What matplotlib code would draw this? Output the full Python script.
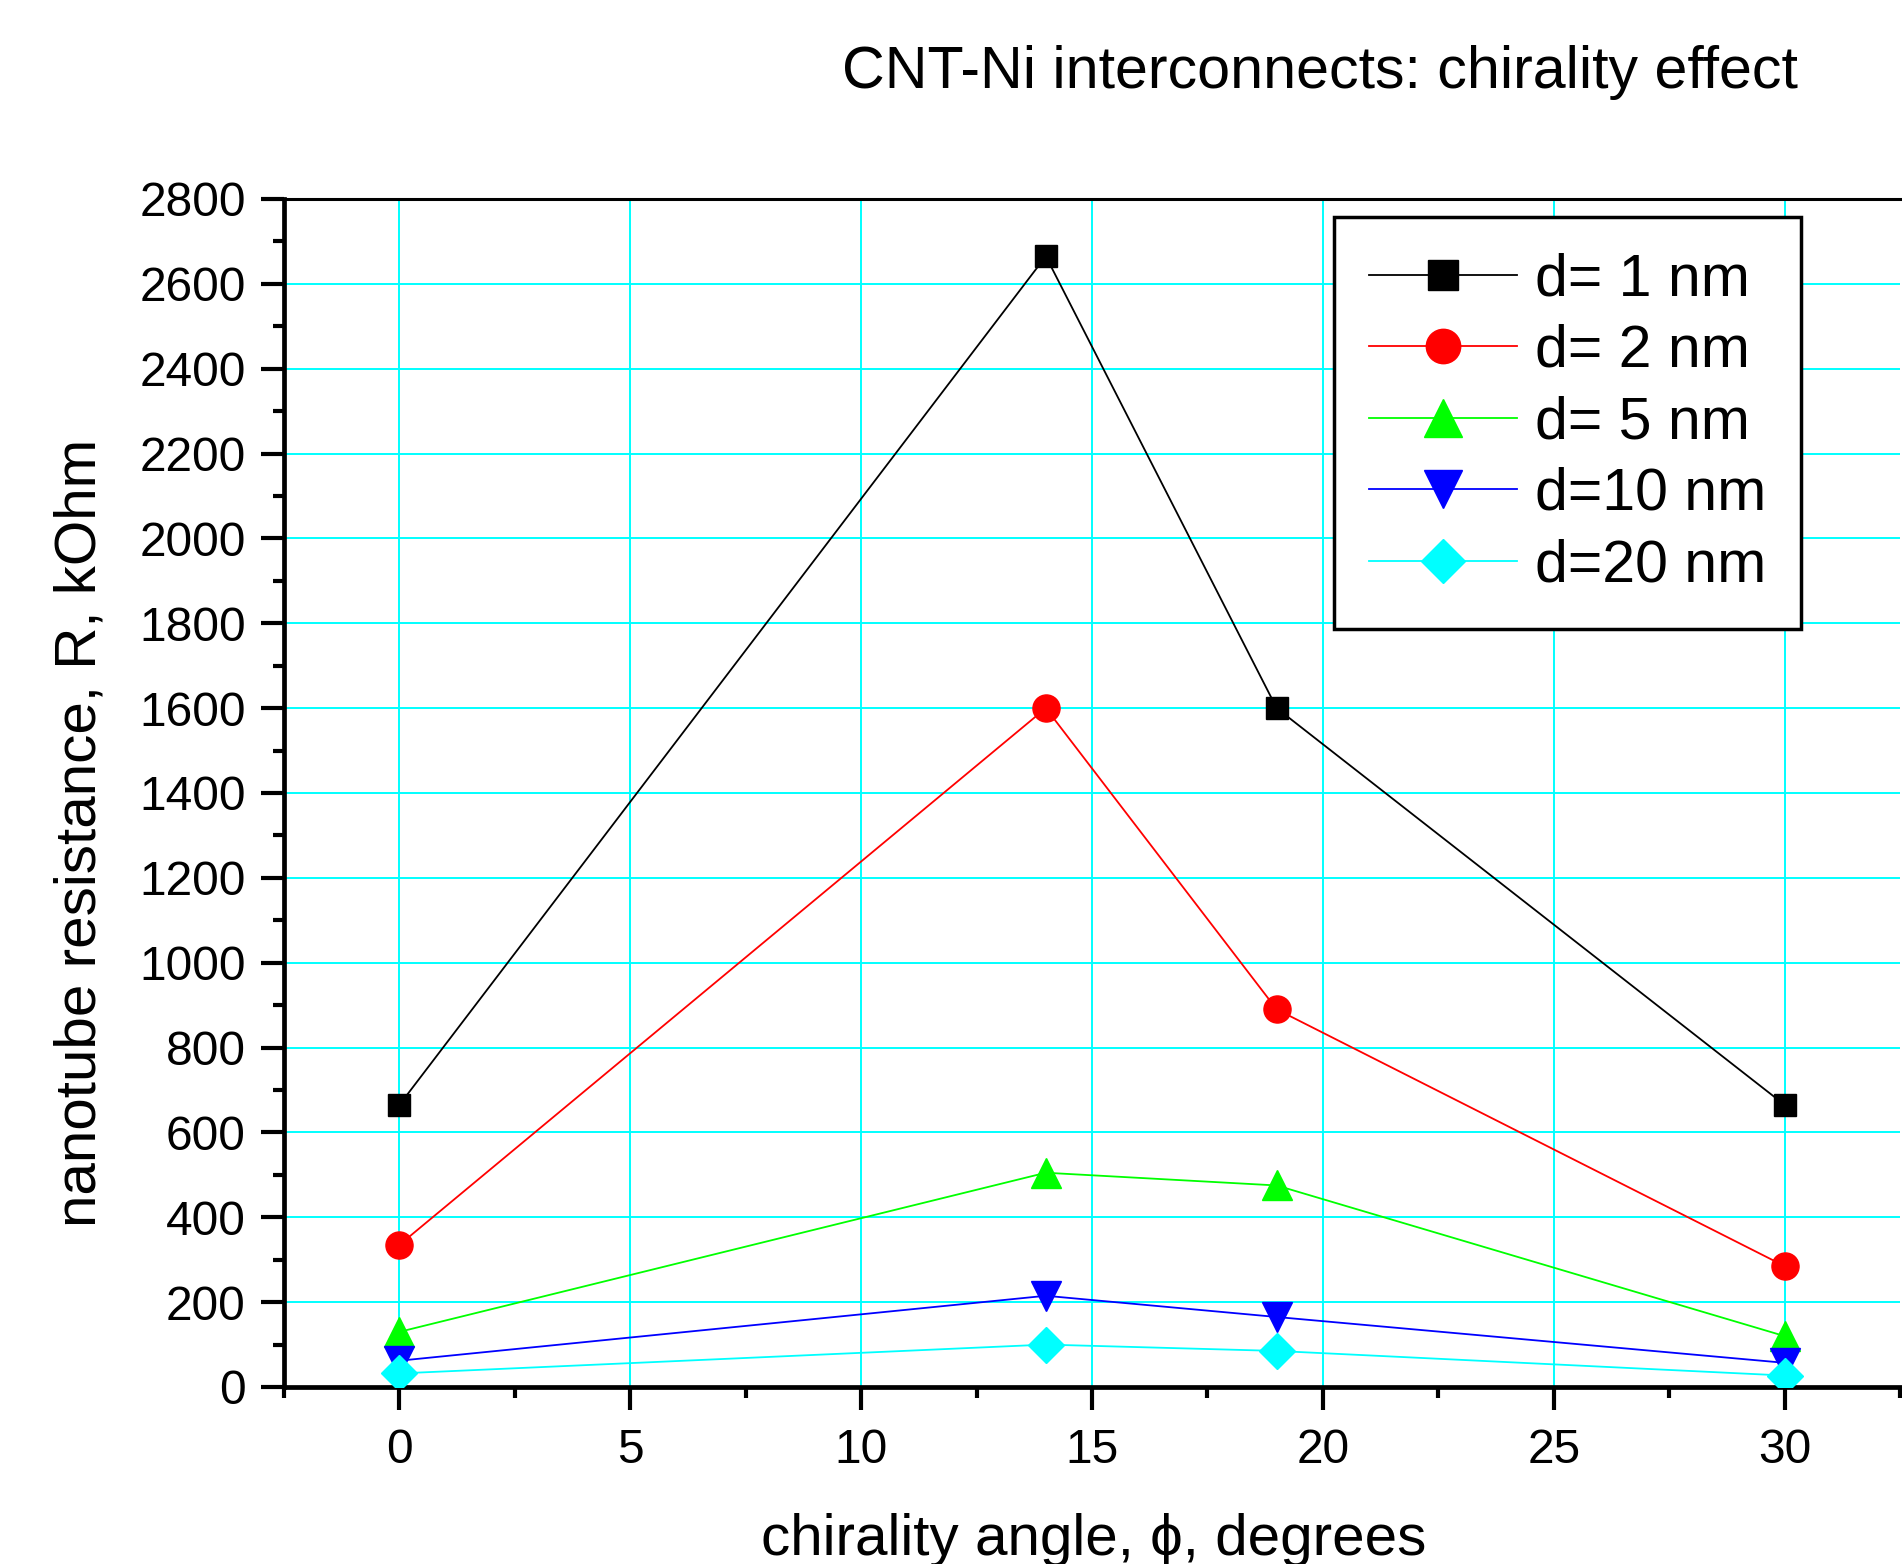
import matplotlib
matplotlib.use("Agg")
import matplotlib.pyplot as plt
from matplotlib.ticker import MultipleLocator

plt.rcParams['font.family'] = ['Liberation Sans', 'DejaVu Sans']

# ---- data ----
angles = [0, 14, 19, 30]
r_d1 = [665, 2665, 1600, 665]
r_d2 = [335, 1600, 890, 285]
r_d5 = [130, 505, 475, 120]
r_d10 = [62, 215, 165, 57]
r_d20 = [32, 100, 85, 27]
labels = ["d= 1 nm", "d= 2 nm", "d= 5 nm", "d=10 nm", "d=20 nm"]
title = "CNT-Ni interconnects: chirality effect"
xlabel = "chirality angle, \u03d5, degrees"
ylabel = "nanotube resistance, R, kOhm"

series = [r_d1, r_d2, r_d5, r_d10, r_d20]
colors = ["#000000", "#ff0000", "#00ff00", "#0000ff", "#00ffff"]
markers = ["s", "o", "^", "v", "D"]
msizes = [16.5, 19.5, 22, 22, 18]

W, H = 1902, 1564
fig = plt.figure(figsize=(W / 100, H / 100), dpi=100)
ax = fig.add_axes([284 / W, 1 - 1387 / H, (1900 - 284) / W, (1387 - 199) / H])

for ys, c, m, ms, lab in zip(series, colors, markers, msizes, labels):
    ax.plot(angles, ys, color=c, lw=1.3, marker=m, ms=ms, mec=c, mfc=c,
            label=lab, zorder=3)

ax.set_xlim(-2.5, 32.5)
ax.set_ylim(0, 2800)
ax.xaxis.set_major_locator(MultipleLocator(5))
ax.xaxis.set_minor_locator(MultipleLocator(2.5))
ax.yaxis.set_major_locator(MultipleLocator(200))
ax.yaxis.set_minor_locator(MultipleLocator(100))

ax.grid(True, which='major', color='#00ffff', lw=1.4, zorder=0)
ax.set_axisbelow(True)

for s in ['left', 'bottom', 'top']:
    ax.spines[s].set_linewidth(3.4)
ax.spines['top'].set_linewidth(2.2)
ax.spines['right'].set_visible(False)

ax.tick_params(which='major', direction='out', length=16.5, width=3, labelsize=34.5,
               pad=11, top=False, right=False)
ax.tick_params(which='minor', direction='out', length=8, width=3, top=False, right=False)
ax.tick_params(axis='x', which='major', pad=13)

fig.text(1320 / W, 1 - 88 / H, title, fontsize=42.6, ha='center', va='baseline')
fig.text(1094 / W, 1 - 1555 / H, xlabel, fontsize=42, ha='center', va='baseline')
fig.text(81 / W, 1 - 833 / H, ylabel, fontsize=42, ha='center', va='center',
         rotation=90)

leg = ax.legend(loc='upper left', bbox_to_anchor=(1334 / W, 1 - 217 / H),
                bbox_transform=fig.transFigure, borderaxespad=0,
                fontsize=42.5, handlelength=2.5, handletextpad=0.3,
                labelspacing=0.28, borderpad=0.6, fancybox=False,
                framealpha=1, edgecolor='black')
leg.get_frame().set_linewidth(2.5)
for h in leg.legend_handles:
    h.set_markersize(h.get_markersize() * 1.27)

fig.savefig("out.png", dpi=100)
